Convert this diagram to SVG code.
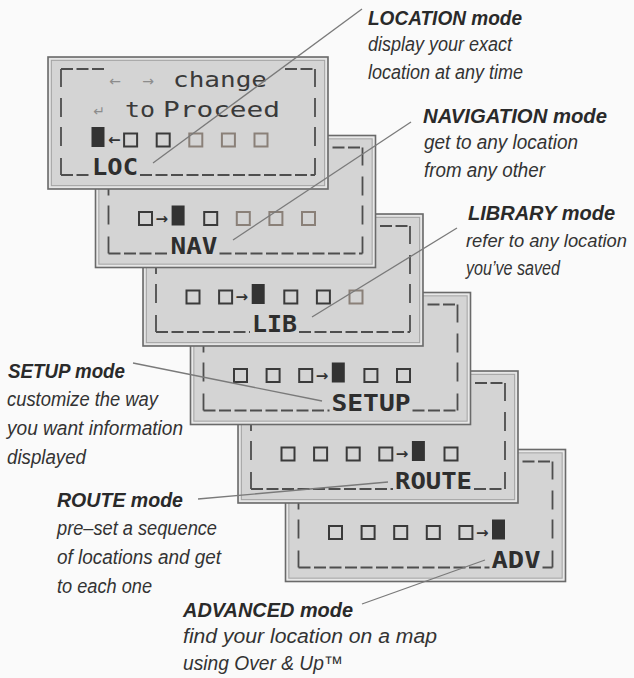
<svg xmlns="http://www.w3.org/2000/svg" width="634" height="678" viewBox="0 0 634 678">
<style>
.bz{fill:#d4d4d4;stroke:#6a6a6a;stroke-width:1.6}
.hl{fill:none;stroke:#ececec;stroke-width:1.1}
.in{fill:none;stroke:#a3a3a3;stroke-width:0.9}
.fr{fill:none;stroke:#4e4e4e;stroke-width:1.8}
.dl{fill:none;stroke:#4e4e4e;stroke-width:1.8;stroke-dasharray:12 3.5}
.lcd{font-family:"DejaVu Sans Mono",monospace;fill:#3a3a3a;font-size:21px}
.lab{font-family:"DejaVu Sans Mono",monospace;fill:#2e2e2e;font-size:23px;font-weight:bold}
.lt{font-family:"DejaVu Sans",sans-serif;fill:#8c8c8c;text-anchor:middle;font-size:14px}
.sq{fill:none;stroke:#3a3a3a;stroke-width:2}
.sql{fill:none;stroke:#8a8078;stroke-width:2}
.mk{fill:#333}
.ar{font-family:"DejaVu Sans",sans-serif;font-size:15px;font-weight:bold;fill:#333;text-anchor:middle}
.tt{font-family:"Liberation Sans",Arial,sans-serif;font-style:italic;font-weight:bold;font-size:20px;fill:#2a2a2a}
.ds{font-family:"Liberation Sans",Arial,sans-serif;font-style:italic;font-size:20px;fill:#333}
.cn{fill:none;stroke:#7a7a7a;stroke-width:1.3}
</style>
<defs>
<g id="bezel">
<rect class="bz" x="0" y="0" width="280" height="132"/>
<rect class="hl" x="1.8" y="1.8" width="276.4" height="128.4"/>
<rect class="in" x="3.4" y="3.4" width="273.2" height="125.2"/>
<path class="fr" d="M13,30V12M13,41V60M13,70V89M13,101V118M267,30V12M267,41V60M267,70V89M267,101V118"/>
<path class="dl" d="M13,12H57M237,12H267"/>
</g>
</defs>
<rect x="0" y="0" width="634" height="678" fill="#fafafa"/>

<g id="screen-adv" transform="translate(285.5,449.5)">
<use href="#bezel"/>
<rect class="sq" x="43.5" y="76.5" width="13" height="13"/>
<rect class="sq" x="76.1" y="76.5" width="13" height="13"/>
<rect class="sq" x="108.7" y="76.5" width="13" height="13"/>
<rect class="sq" x="141.3" y="76.5" width="13" height="13"/>
<rect class="sq" x="173.9" y="76.5" width="13" height="13"/>
<text class="ar" x="196.7" y="88">→</text>
<rect class="mk" x="206.5" y="70" width="13" height="20"/>
<path class="dl" d="M13,118H204M257,118H267"/>
<text class="lab" x="206" y="118" textLength="49" lengthAdjust="spacingAndGlyphs">ADV</text>
</g>

<g id="screen-route" transform="translate(238,371)">
<use href="#bezel"/>
<rect class="sq" x="43.5" y="76.5" width="13" height="13"/>
<rect class="sq" x="76.1" y="76.5" width="13" height="13"/>
<rect class="sq" x="108.7" y="76.5" width="13" height="13"/>
<rect class="sq" x="141.3" y="76.5" width="13" height="13"/>
<text class="ar" x="164.1" y="88">→</text>
<rect class="mk" x="173.9" y="70" width="13" height="20"/>
<rect class="sq" x="206.5" y="76.5" width="13" height="13"/>
<path class="dl" d="M13,118H155M236,118H267"/>
<text class="lab" x="157" y="118" textLength="77" lengthAdjust="spacingAndGlyphs">ROUTE</text>
</g>

<g id="screen-setup" transform="translate(190.5,292.5)">
<use href="#bezel"/>
<rect class="sq" x="43.5" y="76.5" width="13" height="13"/>
<rect class="sq" x="76.1" y="76.5" width="13" height="13"/>
<rect class="sq" x="108.7" y="76.5" width="13" height="13"/>
<text class="ar" x="131.5" y="88">→</text>
<rect class="mk" x="141.3" y="70" width="13" height="20"/>
<rect class="sq" x="173.9" y="76.5" width="13" height="13"/>
<rect class="sq" x="206.5" y="76.5" width="13" height="13"/>
<path class="dl" d="M13,118H139M222,118H267"/>
<text class="lab" x="141" y="118" textLength="79" lengthAdjust="spacingAndGlyphs">SETUP</text>
</g>

<g id="screen-lib" transform="translate(143,214)">
<use href="#bezel"/>
<rect class="sq" x="43.5" y="76.5" width="13" height="13"/>
<rect class="sq" x="76.1" y="76.5" width="13" height="13"/>
<text class="ar" x="98.9" y="88">→</text>
<rect class="mk" x="108.7" y="70" width="13" height="20"/>
<rect class="sq" x="141.3" y="76.5" width="13" height="13"/>
<rect class="sq" x="173.9" y="76.5" width="13" height="13"/>
<rect class="sql" x="206.5" y="76.5" width="13" height="13"/>
<path class="dl" d="M13,118H107M156,118H267"/>
<text class="lab" x="109" y="118" textLength="45" lengthAdjust="spacingAndGlyphs">LIB</text>
</g>

<g id="screen-nav" transform="translate(95.5,135.5)">
<use href="#bezel"/>
<rect class="sq" x="43.5" y="76.5" width="13" height="13"/>
<text class="ar" x="66.3" y="88">→</text>
<rect class="mk" x="76.1" y="70" width="13" height="20"/>
<rect class="sq" x="108.7" y="76.5" width="13" height="13"/>
<rect class="sql" x="141.3" y="76.5" width="13" height="13"/>
<rect class="sql" x="173.9" y="76.5" width="13" height="13"/>
<rect class="sql" x="206.5" y="76.5" width="13" height="13"/>
<path class="dl" d="M13,118H73M124,118H267"/>
<text class="lab" x="75" y="118" textLength="47" lengthAdjust="spacingAndGlyphs">NAV</text>
</g>

<g id="screen-loc" transform="translate(48,57)">
<use href="#bezel"/>
<text class="lt" x="67" y="29">←</text>
<text class="lt" x="100" y="29">→</text>
<text class="lcd" x="125" y="30" textLength="94" lengthAdjust="spacingAndGlyphs">change</text>
<text class="lt" x="51" y="59">↵</text>
<text class="lcd" x="77" y="60" textLength="30" lengthAdjust="spacingAndGlyphs">to</text>
<text class="lcd" x="115" y="60" textLength="117" lengthAdjust="spacingAndGlyphs">Proceed</text>
<rect class="mk" x="43.5" y="70" width="13" height="20"/>
<text class="ar" x="66.3" y="88">←</text>
<rect class="sq" x="76.1" y="76.5" width="13" height="13"/>
<rect class="sq" x="108.7" y="76.5" width="13" height="13"/>
<rect class="sql" x="141.3" y="76.5" width="13" height="13"/>
<rect class="sql" x="173.9" y="76.5" width="13" height="13"/>
<rect class="sql" x="206.5" y="76.5" width="13" height="13"/>
<path class="dl" d="M13,118H42M92,118H267"/>
<text class="lab" x="44" y="118" textLength="46" lengthAdjust="spacingAndGlyphs">LOC</text>
</g>

<g id="connectors">
<path class="cn" d="M153,163L362,9"/>
<path class="cn" d="M233,240L411,122"/>
<path class="cn" d="M312,317L457,228"/>
<path class="cn" d="M322,401L133,363"/>
<path class="cn" d="M388,482L198,499"/>
<path class="cn" d="M485,560L362,604"/>
</g>

<g id="label-location">
<text class="tt" x="368" y="25" textLength="154" lengthAdjust="spacingAndGlyphs">LOCATION mode</text>
<text class="ds" x="368" y="51" textLength="144" lengthAdjust="spacingAndGlyphs">display your exact</text>
<text class="ds" x="368" y="79" textLength="155" lengthAdjust="spacingAndGlyphs">location at any time</text>
</g>
<g id="label-navigation">
<text class="tt" x="423" y="123" textLength="184" lengthAdjust="spacingAndGlyphs">NAVIGATION mode</text>
<text class="ds" x="424" y="149" textLength="154" lengthAdjust="spacingAndGlyphs">get to any location</text>
<text class="ds" x="424" y="177" textLength="121" lengthAdjust="spacingAndGlyphs">from any other</text>
</g>
<g id="label-library">
<text class="tt" x="468" y="220" textLength="147" lengthAdjust="spacingAndGlyphs">LIBRARY mode</text>
<text class="ds" x="466" y="247" style="font-size:18.5px" textLength="161" lengthAdjust="spacingAndGlyphs">refer to any location</text>
<text class="ds" x="466" y="275" textLength="94" lengthAdjust="spacingAndGlyphs">you’ve saved</text>
</g>
<g id="label-setup">
<text class="tt" x="8" y="378" textLength="117" lengthAdjust="spacingAndGlyphs">SETUP mode</text>
<text class="ds" x="7" y="406" textLength="151" lengthAdjust="spacingAndGlyphs">customize the way</text>
<text class="ds" x="7" y="435" textLength="176" lengthAdjust="spacingAndGlyphs">you want information</text>
<text class="ds" x="7" y="464" textLength="79" lengthAdjust="spacingAndGlyphs">displayed</text>
</g>
<g id="label-route">
<text class="tt" x="57" y="507" textLength="126" lengthAdjust="spacingAndGlyphs">ROUTE mode</text>
<text class="ds" x="57" y="535" textLength="160" lengthAdjust="spacingAndGlyphs">pre–set a sequence</text>
<text class="ds" x="57" y="564" textLength="164" lengthAdjust="spacingAndGlyphs">of locations and get</text>
<text class="ds" x="57" y="593" textLength="95" lengthAdjust="spacingAndGlyphs">to each one</text>
</g>
<g id="label-advanced">
<text class="tt" x="183" y="617" textLength="170" lengthAdjust="spacingAndGlyphs">ADVANCED mode</text>
<text class="ds" x="183" y="643" textLength="254" lengthAdjust="spacingAndGlyphs">find your location on a map</text>
<text class="ds" x="183" y="670" textLength="160" lengthAdjust="spacingAndGlyphs">using Over &amp; Up™</text>
</g>
</svg>
